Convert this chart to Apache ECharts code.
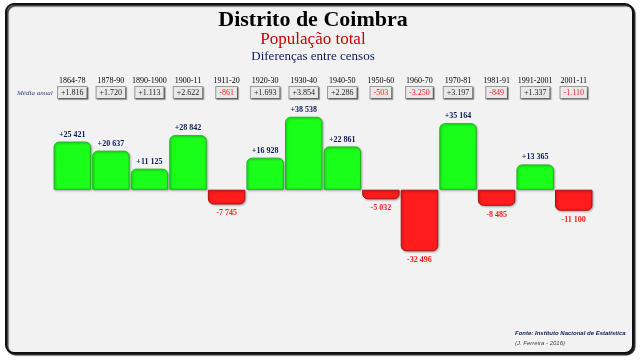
<!DOCTYPE html>
<html><head><meta charset="utf-8">
<script src="https://cdn.jsdelivr.net/npm/echarts@6/dist/echarts.min.js"></script>
<style>html,body{margin:0;padding:0;background:#fff}#c{width:640px;height:360px}</style>
</head><body><div id="c"></div>
<script>
const periods = ['1864-78','1878-90','1890-1900','1900-11','1911-20','1920-30','1930-40','1940-50','1950-60','1960-70','1970-81','1981-91','1991-2001','2001-11'];
const differences = [25421,20637,11125,28842,-7745,16928,38538,22861,-5032,-32496,35164,-8485,13365,-11100];
const annualMean = ['+1.816','+1.720','+1.113','+2.622','-861','+1.693','+3.854','+2.286','-503','-3.250','+3.197','-849','+1.337','-1.110'];

const serif = '"Liberation Serif","DejaVu Serif",serif';
function fmt(v){const s=Math.abs(v).toString().replace(/\B(?=(\d{3})+(?!\d))/g,' ');return (v>=0?'+':'-')+s;}

const boxBase = {fontFamily:serif,fontSize:8,backgroundColor:'#e8e8e8',borderColor:'#9a9a9a',borderWidth:1,padding:[2,3,1,3],shadowColor:'rgba(0,0,0,0.35)',shadowOffsetX:1,shadowOffsetY:1,shadowBlur:1};

const chart = echarts.init(document.getElementById('c'),null,{renderer:'canvas'});
chart.setOption({
  backgroundColor:'#ffffff',
  animation:false,
  graphic:[
    {type:'rect',z:-10,shape:{x:6,y:4,width:627,height:349,r:8},style:{fill:'#f2f2f2',stroke:'#111',lineWidth:2,shadowColor:'rgba(0,0,0,0.8)',shadowOffsetX:1.5,shadowOffsetY:1.5,shadowBlur:1}},
    {type:'text',x:313,y:20,style:{text:'Distrito de Coimbra',font:'bold 22px '+serif,fill:'#000',align:'center',verticalAlign:'middle'}},
    {type:'text',x:313,y:39.5,style:{text:'População total',font:'17px '+serif,fill:'#cc0000',align:'center',verticalAlign:'middle'}},
    {type:'text',x:313,y:57,style:{text:'Diferenças entre censos',font:'13px '+serif,fill:'#0d1a5c',align:'center',verticalAlign:'middle'}},
    {type:'text',left:17,top:90,style:{text:'Média anual',font:'italic 7px '+serif,fill:'#2a3a8a'}},
    {type:'text',left:515,top:330,style:{text:'Fonte: Instituto Nacional de Estatística',font:'italic bold 6px "Liberation Sans",sans-serif',fill:'#0d1a5c'}},
    {type:'text',left:515,top:340,style:{text:'(J. Ferreira - 2016)',font:'italic 6px "Liberation Sans",sans-serif',fill:'#444'}}
  ],
  grid:{left:53,right:47,top:114,bottom:104},
  xAxis:[
    {type:'category',data:periods,position:'top',offset:0,axisLine:{show:false},axisTick:{show:false},
     axisLabel:{interval:0,margin:29,fontFamily:serif,fontSize:8,color:'#000'}},
    {type:'category',data:annualMean,position:'top',offset:0,axisLine:{show:false},axisTick:{show:false},
     axisLabel:{interval:0,margin:16,formatter:function(v){return v.charAt(0)==='-'?'{n|'+v+'}':'{p|'+v+'}';},
       rich:{p:Object.assign({},boxBase,{color:'#222'}),n:Object.assign({},boxBase,{color:'#ff2020'})}}}
  ],
  yAxis:{type:'value',min:-35000,max:40000,show:false,splitLine:{show:false}},
  series:[{
    type:'bar',xAxisIndex:0,barCategoryGap:'3%',
    data:differences.map(v=>({value:v,
      itemStyle: v>=0 ? {color:'#1aff1a',borderColor:'#22b522',borderWidth:1,borderRadius:[5,5,0,0]}
                      : {color:'#ff1c1c',borderColor:'#b01010',borderWidth:1,borderRadius:[0,0,5,5]},
      label: v>=0 ? {position:'top',distance:3,color:'#0d1a5c'} : {position:'bottom',distance:5,color:'#ff1a1a'}
    })),
    itemStyle:{shadowColor:'rgba(0,0,0,0.3)',shadowBlur:2,shadowOffsetX:1,shadowOffsetY:1},
    label:{show:true,fontFamily:serif,fontSize:8,fontWeight:'bold',formatter:p=>fmt(p.value)}
  }]
});
</script></body></html>
